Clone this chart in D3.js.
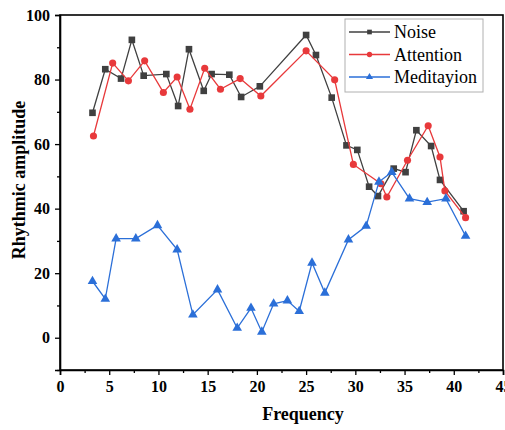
<!DOCTYPE html>
<html>
<head>
<meta charset="utf-8">
<script src="https://cdn.jsdelivr.net/npm/d3@7"></script>
<style>
  html, body { margin: 0; padding: 0; background: #fff; }
  svg { display: block; }
</style>
</head>
<body>
<svg id="chart" width="505" height="430"></svg>
<script>
// Rhythmic amplitude per frequency for the three signals
const noiseX = [3.3, 4.6, 6.2, 7.3, 8.5, 10.8, 12.0, 13.1, 14.6, 15.4, 17.2, 18.4, 20.3, 25.0, 26.0, 27.6, 29.1, 30.2, 31.4, 32.3, 33.9, 35.1, 36.2, 37.7, 38.6, 41.0];
const noiseY = [69.7, 83.2, 80.3, 92.3, 81.2, 81.7, 71.8, 89.4, 76.5, 81.7, 81.5, 74.6, 77.9, 93.8, 87.6, 74.4, 59.6, 58.2, 46.8, 43.9, 52.4, 51.3, 64.3, 59.4, 48.9, 39.2];

const attentionX = [3.4, 5.35, 6.95, 8.6, 10.5, 11.9, 13.2, 14.7, 16.3, 18.3, 20.4, 25.0, 27.9, 29.8, 32.6, 33.2, 35.3, 37.4, 38.6, 39.1, 41.2];
const attentionY = [62.5, 85.1, 79.6, 85.8, 76.0, 80.8, 70.8, 83.5, 77.0, 80.3, 74.9, 88.9, 79.9, 53.7, 47.7, 43.6, 55.0, 65.7, 56.0, 45.5, 37.2];

const meditationX = [3.3, 4.6, 5.7, 7.7, 9.9, 11.9, 13.5, 16.0, 18.0, 19.4, 20.5, 21.7, 23.1, 24.3, 25.6, 26.9, 29.3, 31.1, 32.4, 33.7, 35.5, 37.3, 39.2, 41.2];
const meditationY = [17.5, 12.0, 30.7, 30.7, 34.8, 27.3, 7.1, 14.9, 3.0, 9.2, 1.8, 10.5, 11.5, 8.2, 23.2, 13.9, 30.4, 34.6, 48.3, 51.3, 43.1, 42.0, 43.1, 31.5];

const seriesNames = ["Noise", "Attention", "Meditayion"];
const xTicks = [0, 5, 10, 15, 20, 25, 30, 35, 40, 45];
const yTicks = [0, 20, 40, 60, 80, 100];

const series = [
  { name: seriesNames[0], xs: noiseX, ys: noiseY, color: "#404040", symbol: d3.symbolSquare, size: 44 },
  { name: seriesNames[1], xs: attentionX, ys: attentionY, color: "#e8393b", symbol: d3.symbolCircle, size: 40 },
  { name: seriesNames[2], xs: meditationX, ys: meditationY, color: "#2b6fd8", symbol: d3.symbolTriangle, size: 40 }
];

const svg = d3.select("#chart");
const plotLeft = 60, plotRight = 503, plotTop = 15, plotBottom = 370;

const x = d3.scaleLinear().domain([0, 45]).range([plotLeft, plotRight]);
const y = d3.scaleLinear().domain([-10, 100]).range([plotBottom, plotTop]);

const serif = "'Liberation Serif', 'Times New Roman', serif";

// Frame
svg.append("rect")
  .attr("x", plotLeft).attr("y", plotTop)
  .attr("width", plotRight - plotLeft).attr("height", plotBottom - plotTop)
  .attr("fill", "none").attr("stroke", "#000").attr("stroke-width", 1.6);

// Bottom axis with minor ticks
svg.append("g").attr("transform", `translate(0,${plotBottom})`)
  .call(d3.axisBottom(x).tickValues(xTicks).tickSize(5).tickPadding(6).tickFormat(d3.format("d")));
svg.append("g").attr("transform", `translate(0,${plotBottom})`)
  .call(d3.axisBottom(x).tickValues(d3.range(2.5, 45, 5)).tickSize(3).tickFormat(""))
  .call(g => g.select(".domain").remove());

// Left axis with minor ticks
svg.append("g").attr("transform", `translate(${plotLeft},0)`)
  .call(d3.axisLeft(y).tickValues(yTicks).tickSize(5).tickPadding(5).tickFormat(d3.format("d")));
svg.append("g").attr("transform", `translate(${plotLeft},0)`)
  .call(d3.axisLeft(y).tickValues([-10, 10, 30, 50, 70, 90]).tickSize(3).tickFormat(""))
  .call(g => g.select(".domain").remove());

svg.selectAll(".domain").attr("stroke-width", 1.6);
svg.selectAll(".tick line").attr("stroke-width", 1.3);
svg.selectAll(".tick text")
  .attr("font-family", serif).attr("font-weight", "bold").attr("font-size", 16).attr("fill", "#000");

// Axis titles
svg.append("text")
  .attr("x", 303).attr("y", 420)
  .attr("text-anchor", "middle")
  .attr("font-family", serif).attr("font-weight", "bold").attr("font-size", 18)
  .text("Frequency");

svg.append("text")
  .attr("transform", "translate(25,180) rotate(-90)")
  .attr("text-anchor", "middle")
  .attr("font-family", serif).attr("font-weight", "bold").attr("font-size", 18)
  .text("Rhythmic amplitude");

// Lines and markers
const line = d3.line().x(d => x(d[0])).y(d => y(d[1]));

series.forEach(s => {
  const pts = s.xs.map((v, i) => [v, s.ys[i]]);
  const g = svg.append("g");
  g.append("path")
    .datum(pts)
    .attr("d", line)
    .attr("fill", "none")
    .attr("stroke", s.color)
    .attr("stroke-width", 1.3);
  g.selectAll("path.mark")
    .data(pts)
    .join("path")
    .attr("class", "mark")
    .attr("transform", d => `translate(${x(d[0])},${y(d[1])})`)
    .attr("d", d3.symbol().type(s.symbol).size(s.size))
    .attr("fill", s.color);
});

// Legend
const legend = svg.append("g");
legend.append("rect")
  .attr("x", 345).attr("y", 19).attr("width", 138).attr("height", 73)
  .attr("fill", "#fff").attr("stroke", "#b0b0b0").attr("stroke-width", 1);

series.forEach((s, i) => {
  const cy = 32 + i * 22.5;
  legend.append("line")
    .attr("x1", 349).attr("x2", 390).attr("y1", cy).attr("y2", cy)
    .attr("stroke", s.color).attr("stroke-width", 1.3);
  legend.append("path")
    .attr("transform", `translate(369.5,${cy})`)
    .attr("d", d3.symbol().type(s.symbol).size(22))
    .attr("fill", s.color);
  legend.append("text")
    .attr("x", 394).attr("y", cy + 6)
    .attr("font-family", serif).attr("font-size", 18).attr("fill", "#000")
    .text(s.name);
});
</script>
</body>
</html>
